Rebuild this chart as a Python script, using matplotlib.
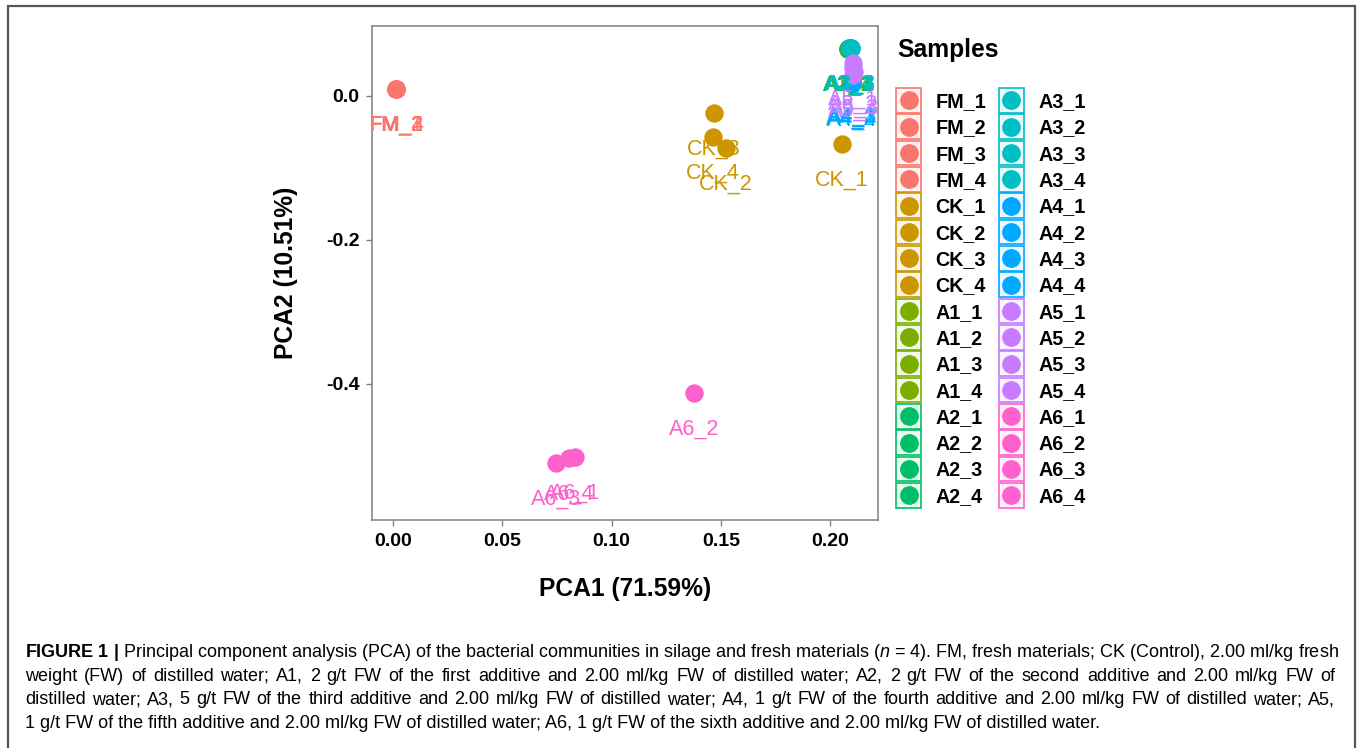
import matplotlib
matplotlib.use("Agg")
import matplotlib.pyplot as plt
import numpy as np
from matplotlib.patches import Rectangle
from matplotlib.lines import Line2D
from matplotlib.legend_handler import HandlerBase
from matplotlib.colors import to_rgba

plt.rcParams['font.family'] = ['Liberation Sans', 'DejaVu Sans']
plt.rcParams['mathtext.fontset'] = 'custom'
plt.rcParams['mathtext.rm'] = 'Liberation Sans'
plt.rcParams['mathtext.bf'] = 'Liberation Sans:bold'
plt.rcParams['mathtext.it'] = 'Liberation Sans:italic'

# %% Data
groups = ["FM", "CK", "A1", "A2", "A3", "A4", "A5", "A6"]
colors = ["#F8766D", "#CD9600", "#7CAE00", "#00BE67",
          "#00BFC4", "#00A9FF", "#C77CFF", "#FF61CC"]

pca1 = {
    "FM": [0.0013, 0.0014, 0.0012, 0.0015],
    "CK": [0.2053, 0.1522, 0.1468, 0.1463],
    "A1": [0.2082, 0.2084, 0.2081, 0.2083],
    "A2": [0.2086, 0.2088, 0.2087, 0.2089],
    "A3": [0.2094, 0.2093, 0.2095, 0.2092],
    "A4": [0.2100, 0.2098, 0.2101, 0.2099],
    "A5": [0.2106, 0.2104, 0.2107, 0.2105],
    "A6": [0.0834, 0.1378, 0.0748, 0.0806],
}
pca2 = {
    "FM": [0.0098, 0.0096, 0.0099, 0.0097],
    "CK": [-0.0667, -0.0722, -0.0236, -0.0569],
    "A1": [0.0655, 0.0648, 0.0652, 0.0645],
    "A2": [0.0660, 0.0655, 0.0658, 0.0650],
    "A3": [0.0668, 0.0663, 0.0665, 0.0660],
    "A4": [0.0220, 0.0180, 0.0200, 0.0160],
    "A5": [0.0450, 0.0390, 0.0330, 0.0290],
    "A6": [-0.5012, -0.4125, -0.5097, -0.5035],
}
reps = [1, 2, 3, 4]

xticks = [0.00, 0.05, 0.10, 0.15, 0.20]
yticks = [0.0, -0.2, -0.4]

caption_head = r"$\mathbf{FIGURE\ 1\ |}$ Principal component analysis (PCA) of the bacterial communities in silage and fresh materials ($\mathit{n}$ = 4). FM, fresh materials; CK (Control), 2.00 ml/kg fresh"
caption_body = [
    "weight (FW) of distilled water; A1, 2 g/t FW of the first additive and 2.00 ml/kg FW of distilled water; A2, 2 g/t FW of the second additive and 2.00 ml/kg FW of",
    "distilled water; A3, 5 g/t FW of the third additive and 2.00 ml/kg FW of distilled water; A4, 1 g/t FW of the fourth additive and 2.00 ml/kg FW of distilled water; A5,",
]
caption_last = "1 g/t FW of the fifth additive and 2.00 ml/kg FW of distilled water; A6, 1 g/t FW of the sixth additive and 2.00 ml/kg FW of distilled water."

# %% Figure
W, H = 1360, 748
fig = plt.figure(figsize=(W / 100, H / 100), dpi=100)
fig.patches.append(Rectangle((8 / W, -0.02), 1347 / W, 1 - 6 / H + 0.02,
                             transform=fig.transFigure, fill=False,
                             ec="#555555", lw=1.6))

ax = fig.add_axes([372 / W, 1 - 520 / H, 506 / W, 494 / H])

# points first, then labels (like ggplot layers)
for g, c in zip(groups, colors):
    ax.scatter(pca1[g], pca2[g], s=175, color=c, lw=0, zorder=2)
for g, c in zip(groups, colors):
    for r, x, y in zip(reps, pca1[g], pca2[g]):
        ax.text(x, y - 0.05, f"{g}_{r}", color=c, fontsize=15.5,
                ha="center", va="center", clip_on=True, zorder=3)

ax.set_xlim(-0.0096, 0.2219)
ax.set_ylim(-0.589, 0.097)
ax.set_xticks(xticks)
ax.set_xticklabels([f"{t:.2f}" for t in xticks])
ax.set_yticks(yticks)
ax.set_yticklabels([f"{t:.1f}" for t in yticks])
ax.tick_params(colors="#7F7F7F", labelcolor="black", length=4, width=1,
               labelsize=14, pad=5)
for lab in ax.get_xticklabels() + ax.get_yticklabels():
    lab.set_fontweight("bold")
for s in ax.spines.values():
    s.set_color("#7F7F7F")
    s.set_linewidth(1.1)

ax.set_xlabel("PCA1 (71.59%)", fontsize=17.7, fontweight="bold", labelpad=20)
ax.set_ylabel("PCA2 (10.51%)", fontsize=17.7, fontweight="bold", labelpad=20)


# legend keys: dot inside a tinted box
class BoxedDot(HandlerBase):
    def create_artists(self, legend, orig_handle, xdescent, ydescent,
                       width, height, fontsize, trans):
        c = orig_handle.get_color()
        cx = -xdescent + width / 2
        cy = -ydescent + height / 2
        box = 17.8
        rect = Rectangle((cx - box / 2, cy - box / 2), box, box,
                         facecolor=to_rgba(c, 0.08), edgecolor=c, lw=1.2,
                         transform=trans)
        dot = Line2D([cx], [cy], marker="o", ms=12.5, color=c, lw=0,
                     transform=trans)
        return [rect, dot]


handles, labels = [], []
for g, c in zip(groups, colors):
    for r in reps:
        handles.append(Line2D([], [], color=c))
        labels.append(f"{g}_{r}")

fig.text(897 / W, 1 - 50 / H, "Samples", fontsize=17.7, fontweight="bold",
         ha="left", va="center")
fig.legend(handles, labels, handler_map={Line2D: BoxedDot()}, ncol=2,
           loc="upper left", bbox_to_anchor=(896 / W, 1 - 89 / H),
           frameon=False, borderpad=0, borderaxespad=0,
           handlelength=1.27, handleheight=1.4, handletextpad=0.74,
           labelspacing=0.18, columnspacing=0.62,
           prop={"weight": "bold", "size": 14.2})

# caption (justified like the journal layout), baseline aligned
x0, right, cap_fs = 25, 1335, 13
line_y = [657 + i * 23.7 for i in range(4)]
fig.text(x0 / W, 1 - line_y[0] / H, caption_head, fontsize=cap_fs,
         ha="left", va="baseline")
renderer = fig.canvas.get_renderer()
for line, yy in zip(caption_body, line_y[1:3]):
    words = line.split(" ")
    arts = [fig.text(0, 1 - yy / H, w, fontsize=cap_fs, ha="left",
                     va="baseline") for w in words]
    widths = [a.get_window_extent(renderer).width for a in arts]
    gap = (right - x0 - sum(widths)) / (len(words) - 1)
    xx = x0
    for a, wd in zip(arts, widths):
        a.set_x(xx / W)
        xx += wd + gap
fig.text(x0 / W, 1 - line_y[3] / H, caption_last, fontsize=cap_fs,
         ha="left", va="baseline")

fig.savefig("out.png", dpi=100)
